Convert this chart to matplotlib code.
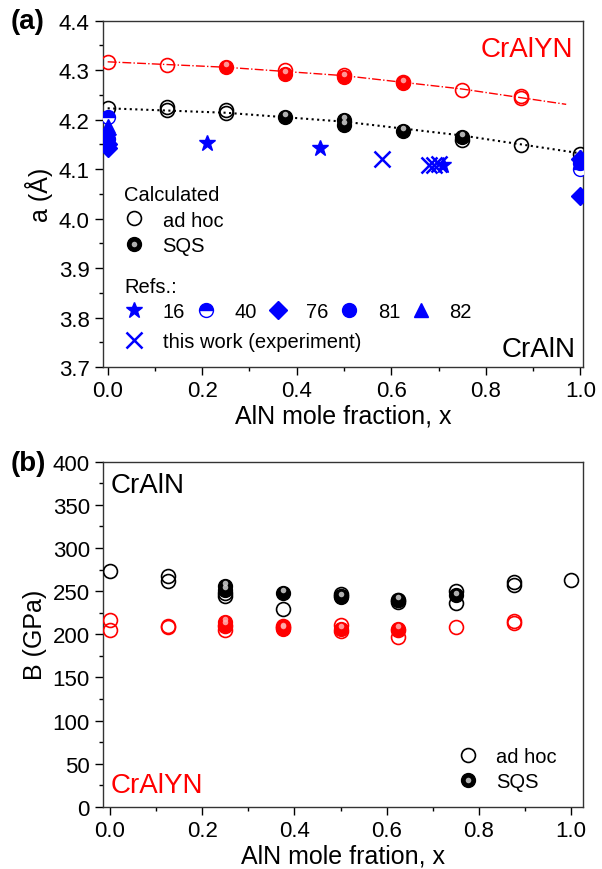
import numpy as np
import matplotlib
matplotlib.use('Agg')
import matplotlib.pyplot as plt
import matplotlib.transforms as mtransforms
from matplotlib.lines import Line2D
from matplotlib.legend_handler import HandlerTuple
from matplotlib.ticker import MultipleLocator

plt.rcParams['font.family'] = ['Liberation Sans', 'DejaVu Sans']
plt.rcParams['font.size'] = 15

RED = '#ff0000'
BLUE = '#0000ff'

# ---------- (a) lattice parameter ----------
# CrAlYN, calculated
a_y_adhoc_x = [0.0, 0.125, 0.375, 0.5, 0.625, 0.75, 0.875, 0.875]
a_y_adhoc = [4.316, 4.311, 4.300, 4.291, 4.276, 4.260, 4.248, 4.243]
a_y_sqs_x = [0.25, 0.375, 0.5, 0.625]
a_y_sqs = [4.307, 4.292, 4.286, 4.274]
a_y_fit_x = [0.0, 0.25, 0.5, 0.75, 0.97]
a_y_fit = [4.317, 4.306, 4.289, 4.262, 4.231]

# CrAlN, calculated
a_n_adhoc_x = [0.0, 0.125, 0.125, 0.25, 0.25, 0.75, 0.875, 1.0]
a_n_adhoc = [4.223, 4.225, 4.219, 4.219, 4.213, 4.158, 4.148, 4.130]
a_n_sqs_x = [0.375, 0.5, 0.5, 0.625, 0.75]
a_n_sqs = [4.205, 4.200, 4.190, 4.178, 4.165]
a_n_fit_x = [0.0, 0.25, 0.5, 0.75, 1.0]
a_n_fit = [4.223, 4.214, 4.196, 4.168, 4.132]

# literature values
ref16_x = [0.0, 0.21, 0.45, 0.71]
ref16 = [4.165, 4.153, 4.142, 4.108]
ref40_x = [0.0, 1.0]
ref40 = [4.205, 4.100]
ref76_x = [0.0, 0.0, 1.0, 1.0]
ref76 = [4.150, 4.143, 4.120, 4.045]
ref81_x = [0.0, 1.0]
ref81 = [4.160, 4.113]
ref82_x = [0.0, 0.0, 1.0]
ref82 = [4.188, 4.176, 4.125]
exp_x = [0.58, 0.68, 0.69, 0.70]
exp_a = [4.120, 4.108, 4.108, 4.110]

# ---------- (b) bulk modulus ----------
b_n_adhoc_x = [0.0, 0.125, 0.125, 0.25, 0.25, 0.375, 0.5, 0.5, 0.625, 0.625, 0.75, 0.75, 0.875, 0.875, 1.0]
b_n_adhoc = [273, 268, 262, 248, 244, 229, 247, 244, 237, 240, 250, 236, 260, 257, 263]
b_n_sqs_x = [0.25, 0.25, 0.375, 0.5, 0.625, 0.75]
b_n_sqs = [256, 251, 248, 243, 240, 245]
b_y_adhoc_x = [0.0, 0.0, 0.125, 0.125, 0.25, 0.25, 0.375, 0.375, 0.5, 0.5, 0.625, 0.625, 0.75, 0.875, 0.875]
b_y_adhoc = [216, 205, 210, 208, 205, 210, 210, 207, 211, 204, 197, 205, 208, 215, 213]
b_y_sqs_x = [0.25, 0.25, 0.375, 0.375, 0.5, 0.625]
b_y_sqs = [214, 211, 208, 206, 206, 206]

fig = plt.figure(figsize=(6.02, 8.70), dpi=100)
ax1 = fig.add_axes([0.171, 0.577, 0.797, 0.398])
ax2 = fig.add_axes([0.171, 0.0713, 0.797, 0.397])

MS = 10
LEG = dict(frameon=False, fontsize=14.5, handlelength=1.0, handletextpad=0.9,
           borderpad=0.2, labelspacing=0.3)


def open_pts(ax, x, y, color):
    ax.plot(x, y, 'o', ms=MS, mfc='none', mec=color, mew=1.2, ls='none', zorder=3)


def spheres(ax, x, y, color, shine):
    ax.plot(x, y, 'o', ms=MS, mfc=color, mec=color, mew=1.0, ls='none', zorder=4)
    off = mtransforms.ScaledTranslation(0, 2.0 / 72, fig.dpi_scale_trans)
    ax.plot(x, y, 'o', ms=4, mfc=shine, mec='none', alpha=0.85, ls='none',
            transform=ax.transData + off, zorder=5)


def sphere_handle(color, shine):
    return (Line2D([], [], marker='o', ms=MS, mfc=color, mec=color, ls='none'),
            Line2D([], [], marker='o', ms=4, mfc=shine, mec='none', alpha=0.85, ls='none'))


def style_axis(ax):
    ax.tick_params(which='both', direction='out', top=False, right=False, labelsize=16)
    ax.tick_params(which='major', length=6, width=1)
    ax.tick_params(which='minor', length=3, width=1)
    for s in ax.spines.values():
        s.set_linewidth(1.0)
        s.set_color('#333333')


# panel (a)
ax1.plot(a_y_fit_x, a_y_fit, '-.', color=RED, lw=1.0, zorder=2)
ax1.plot(a_n_fit_x, a_n_fit, ':', color='black', lw=1.5, zorder=2)
open_pts(ax1, a_y_adhoc_x, a_y_adhoc, RED)
spheres(ax1, a_y_sqs_x, a_y_sqs, RED, '#ffb0b0')
open_pts(ax1, a_n_adhoc_x, a_n_adhoc, 'black')
spheres(ax1, a_n_sqs_x, a_n_sqs, 'black', '#d0d0d0')

ax1.plot(ref16_x, ref16, '*', ms=12, color=BLUE, ls='none', zorder=6)
ax1.plot(ref40_x, ref40, 'o', ms=MS, mfc=BLUE, mfcalt='white', fillstyle='top',
         mec=BLUE, ls='none', zorder=6)
ax1.plot(ref76_x, ref76, 'D', ms=9, color=BLUE, ls='none', zorder=6)
ax1.plot(ref81_x, ref81, 'o', ms=MS, color=BLUE, ls='none', zorder=6)
ax1.plot(ref82_x, ref82, '^', ms=10, color=BLUE, ls='none', zorder=6)
ax1.plot(exp_x, exp_a, 'x', ms=12, mew=1.8, color=BLUE, ls='none', zorder=6)

ax1.set_xlim(-0.01, 1.005)
ax1.set_ylim(3.7, 4.4)
ax1.xaxis.set_major_locator(MultipleLocator(0.2))
ax1.xaxis.set_minor_locator(MultipleLocator(0.1))
ax1.yaxis.set_major_locator(MultipleLocator(0.1))
ax1.yaxis.set_minor_locator(MultipleLocator(0.05))
style_axis(ax1)
ax1.set_xlabel('AlN mole fraction, x', fontsize=18, labelpad=2)
ax1.set_ylabel('a (Å)', fontsize=18, labelpad=4)
ax1.text(0.98, 0.955, 'CrAlYN', color=RED, fontsize=20, ha='right', va='top',
         transform=ax1.transAxes)
ax1.text(0.985, 0.015, 'CrAlN', color='black', fontsize=20, ha='right', va='bottom',
         transform=ax1.transAxes)

open_h = Line2D([], [], marker='o', ms=MS, mfc='none', mec='black', mew=1.2, ls='none')
leg_calc = ax1.legend([open_h, sphere_handle('black', '#d0d0d0')], ['ad hoc', 'SQS'],
                      title='Calculated', alignment='left', loc='upper left',
                      bbox_to_anchor=(0.015, 0.565), title_fontsize=14.5,
                      handler_map={tuple: HandlerTuple(ndivide=1)}, **LEG)
ax1.add_artist(leg_calc)

ref_handles = [
    Line2D([], [], marker='*', ms=12, color=BLUE, ls='none'),
    Line2D([], [], marker='o', ms=MS, mfc=BLUE, mfcalt='white', fillstyle='top', mec=BLUE, ls='none'),
    Line2D([], [], marker='D', ms=9, color=BLUE, ls='none'),
    Line2D([], [], marker='o', ms=MS, color=BLUE, ls='none'),
    Line2D([], [], marker='^', ms=10, color=BLUE, ls='none'),
]
leg_refs = ax1.legend(ref_handles, ['16', '40', '76', '81', '82'], title='Refs.:',
                      alignment='left', loc='upper left', bbox_to_anchor=(0.015, 0.3),
                      ncol=5, title_fontsize=14.5, columnspacing=0.55, **LEG)
ax1.add_artist(leg_refs)
exp_h = Line2D([], [], marker='x', ms=12, mew=1.8, color=BLUE, ls='none')
ax1.legend([exp_h], ['this work (experiment)'], loc='upper left',
           bbox_to_anchor=(0.015, 0.143), **LEG)

fig.text(0.018, 0.975, '(a)', fontsize=20, fontweight='bold', va='center')

# panel (b)
open_pts(ax2, b_n_adhoc_x, b_n_adhoc, 'black')
spheres(ax2, b_n_sqs_x, b_n_sqs, 'black', '#d0d0d0')
open_pts(ax2, b_y_adhoc_x, b_y_adhoc, RED)
spheres(ax2, b_y_sqs_x, b_y_sqs, RED, '#ffb0b0')

ax2.set_xlim(-0.015, 1.025)
ax2.set_ylim(0, 400)
ax2.xaxis.set_major_locator(MultipleLocator(0.2))
ax2.xaxis.set_minor_locator(MultipleLocator(0.1))
ax2.yaxis.set_major_locator(MultipleLocator(50))
ax2.yaxis.set_minor_locator(MultipleLocator(25))
style_axis(ax2)
ax2.set_xlabel('AlN mole fration, x', fontsize=18, labelpad=2)
ax2.set_ylabel('B (GPa)', fontsize=18, labelpad=4)
ax2.text(0.015, 0.97, 'CrAlN', color='black', fontsize=20, ha='left', va='top',
         transform=ax2.transAxes)
ax2.text(0.015, 0.025, 'CrAlYN', color=RED, fontsize=20, ha='left', va='bottom',
         transform=ax2.transAxes)
ax2.legend([open_h, sphere_handle('black', '#d0d0d0')], ['ad hoc', 'SQS'],
           loc='lower right', bbox_to_anchor=(0.975, 0.005),
           handler_map={tuple: HandlerTuple(ndivide=1)}, **LEG)

fig.text(0.018, 0.467, '(b)', fontsize=20, fontweight='bold', va='center')

fig.savefig('out.png', dpi=100)
